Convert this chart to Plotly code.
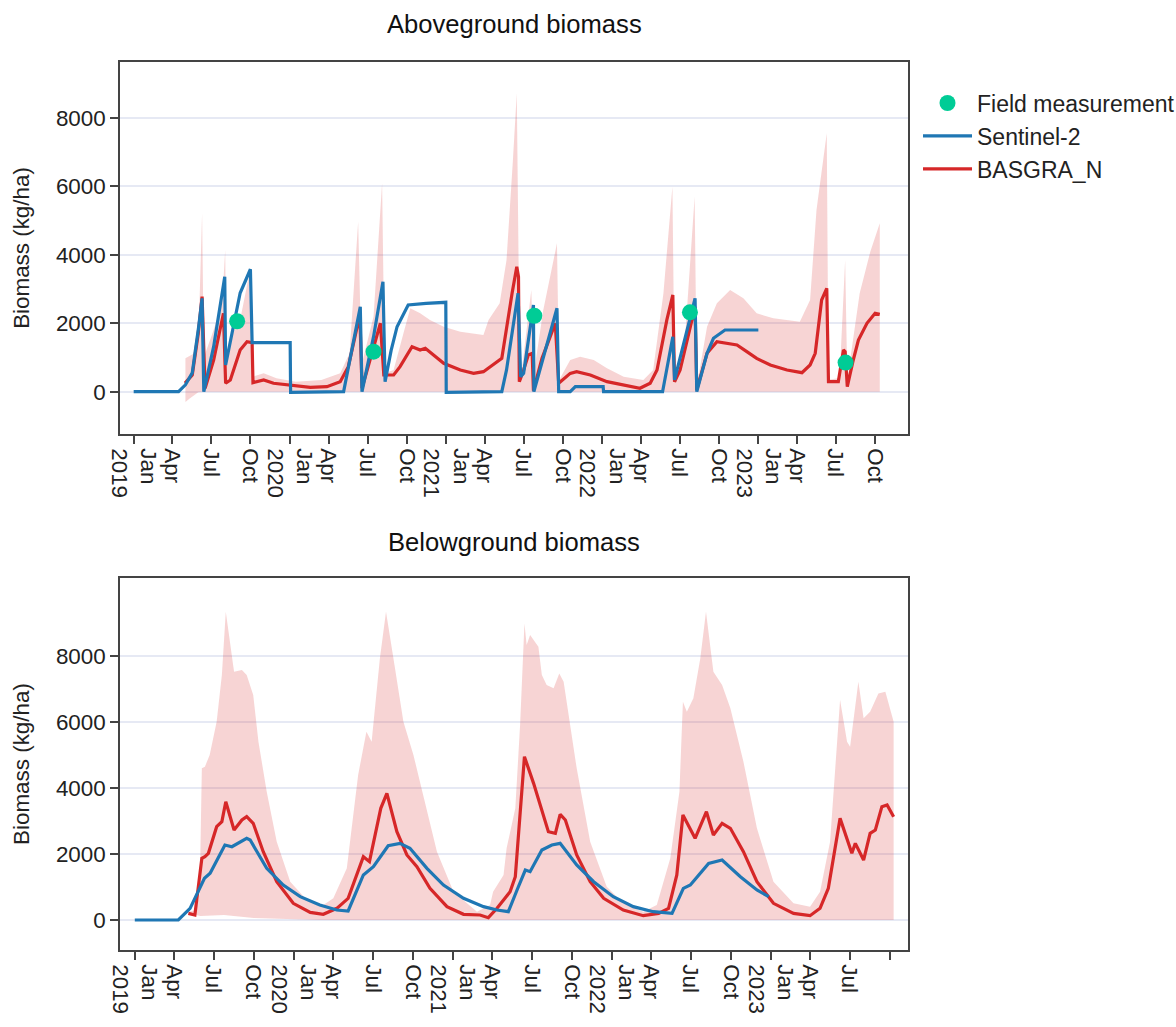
import plotly.graph_objects as go

# ---------------- data: Aboveground biomass (top panel) ----------------
field_dates = ["2019-08-31", "2020-07-15", "2021-07-26", "2022-07-25", "2023-07-24"]
field_agb = [2060, 1170, 2220, 2320, 850]

s2_agb_dates = ["2019-01-01", "2019-04-16", "2019-05-02", "2019-05-18", "2019-06-02", "2019-06-10",
                "2019-06-14", "2019-07-07", "2019-08-02", "2019-08-04", "2019-09-07", "2019-10-01",
                "2019-10-05", "2020-01-02", "2020-01-03", "2020-05-06", "2020-06-14", "2020-06-18",
                "2020-07-15", "2020-08-06", "2020-08-11", "2020-08-25", "2020-09-08", "2020-10-04",
                "2020-11-15", "2020-12-31", "2021-01-01", "2021-05-11", "2021-05-22", "2021-06-18",
                "2021-06-24", "2021-07-01", "2021-07-24", "2021-07-25", "2021-09-17", "2021-09-21",
                "2021-10-18", "2021-10-30", "2022-01-03", "2022-01-04", "2022-05-22", "2022-06-15",
                "2022-06-19", "2022-08-06", "2022-08-10", "2022-09-03", "2022-09-18", "2022-10-15",
                "2023-01-01"]
s2_agb = [0, 0, 200, 550, 1900, 2730,
          0, 1316, 3360, 780, 2885, 3580,
          1433, 1433, -20, 0, 2485, 0,
          1608, 3216, 292, 1200, 1900, 2535,
          2580, 2614, -20, 0, 635, 2877,
          440, 536, 2535, 0, 2438, 0,
          0, 146, 146, 0, 0, 1608,
          342, 2730, 0, 1122, 1561, 1804,
          1804]

bas_agb_dates = ["2019-05-01", "2019-05-18", "2019-06-01", "2019-06-10", "2019-06-17", "2019-07-07",
                 "2019-07-30", "2019-08-04", "2019-08-15", "2019-09-07", "2019-09-23", "2019-10-05",
                 "2019-10-07", "2019-11-01", "2019-11-24", "2020-01-02", "2020-02-18", "2020-03-28",
                 "2020-04-28", "2020-05-17", "2020-06-09", "2020-06-13", "2020-06-18", "2020-07-15",
                 "2020-07-31", "2020-08-08", "2020-08-31", "2020-09-15", "2020-10-13", "2020-11-01",
                 "2020-11-13", "2020-12-26", "2021-02-03", "2021-03-06", "2021-03-29", "2021-04-14",
                 "2021-05-11", "2021-06-04", "2021-06-15", "2021-06-19", "2021-06-21", "2021-07-01",
                 "2021-07-12", "2021-07-21", "2021-07-24", "2021-08-13", "2021-09-13", "2021-09-21",
                 "2021-10-18", "2021-11-02", "2021-12-04", "2022-01-12", "2022-02-20", "2022-03-30",
                 "2022-04-23", "2022-05-09", "2022-06-01", "2022-06-15", "2022-06-19", "2022-07-02",
                 "2022-07-26", "2022-08-06", "2022-08-10", "2022-09-03", "2022-09-26", "2022-10-23",
                 "2022-11-12", "2022-12-05", "2022-12-28", "2023-01-29", "2023-03-09", "2023-04-13",
                 "2023-05-02", "2023-05-14", "2023-05-29", "2023-06-10", "2023-06-14", "2023-07-07",
                 "2023-07-19", "2023-07-23", "2023-07-28", "2023-08-11", "2023-08-23", "2023-09-12",
                 "2023-10-01", "2023-10-12"]
bas_agb = [250, 488, 1700, 2778, 100, 927,
           2292, 245, 342, 1219, 1462, 1433,
           264, 342, 245, 196, 128, 146,
           292, 731, 2000, 2250, 100, 1316,
           2000, 488, 488, 731, 1316, 1219,
           1267, 830, 635, 536, 585, 731,
           975, 2877, 3655, 3363, 292, 635,
           1073, 1122, 30, 975, 2000, 245,
           536, 585, 488, 292, 196, 99,
           245, 635, 2097, 2828, 292, 635,
           1900, 2485, 50, 1122, 1462, 1414,
           1365, 1170, 975, 780, 635, 556,
           780, 1122, 2680, 3023, 292, 292,
           1219, 1170, 150, 927, 1510, 2000,
           2292, 2260]

band_agb_up_dates = ["2019-05-02", "2019-05-20", "2019-06-03", "2019-06-10", "2019-06-14", "2019-07-07",
                     "2019-07-27", "2019-08-03", "2019-08-06", "2019-08-20", "2019-09-07", "2019-09-27",
                     "2019-10-04", "2019-10-07", "2019-11-01", "2019-12-01", "2020-01-15", "2020-03-15",
                     "2020-04-28", "2020-05-20", "2020-06-09", "2020-06-17", "2020-07-15", "2020-08-04",
                     "2020-08-10", "2020-08-31", "2020-09-23", "2020-10-09", "2020-11-01", "2020-11-24",
                     "2020-12-26", "2021-02-03", "2021-03-29", "2021-04-10", "2021-05-06", "2021-05-22",
                     "2021-06-06", "2021-06-15", "2021-06-20", "2021-06-25", "2021-07-19", "2021-07-25",
                     "2021-08-16", "2021-09-17", "2021-09-22", "2021-10-18", "2021-11-10", "2021-12-12",
                     "2022-01-12", "2022-02-20", "2022-04-07", "2022-04-30", "2022-05-24", "2022-06-14",
                     "2022-06-19", "2022-07-10", "2022-08-05", "2022-08-10", "2022-09-03", "2022-09-26",
                     "2022-10-27", "2022-11-27", "2022-12-28", "2023-02-05", "2023-04-08", "2023-05-02",
                     "2023-05-17", "2023-06-10", "2023-06-14", "2023-07-10", "2023-07-23", "2023-07-28",
                     "2023-08-26", "2023-09-20", "2023-10-12"]
band_agb_up = [975, 1100, 2200, 5216, 1000, 1800,
               2600, 4143, 900, 1700, 2097, 3363,
               1600, 439, 536, 390, 292, 342,
               536, 1122, 4970, 780, 2200, 6094,
               536, 635, 1707, 2438, 2292, 2097,
               1900, 1754, 1658, 2097, 2585, 3851,
               6775, 8725, 2877, 440, 2974, 536,
               2389, 4339, 342, 927, 1024, 927,
               684, 439, 342, 635, 2877, 5994,
               342, 927, 5702, 150, 1900, 2585,
               2974, 2730, 2292, 2146, 2047, 2680,
               5313, 7555, 350, 400, 3851, 342,
               2877, 4100, 4923]
band_agb_lo_dates = ["2019-05-02", "2019-05-12", "2019-06-01", "2019-06-10", "2023-10-12"]
band_agb_lo = [-300, -200, -20, 0, 0]

# ---------------- data: Belowground biomass (bottom panel) ----------------
s2_bgb_dates = ["2019-01-01", "2019-04-11", "2019-05-08", "2019-06-10", "2019-06-23", "2019-07-27",
                "2019-08-12", "2019-09-15", "2019-09-23", "2019-10-31", "2019-12-08", "2020-01-16",
                "2020-03-01", "2020-04-09", "2020-05-05", "2020-06-09", "2020-07-02", "2020-08-05",
                "2020-09-01", "2020-09-24", "2020-11-02", "2020-12-10", "2021-01-25", "2021-03-12",
                "2021-04-12", "2021-05-08", "2021-05-28", "2021-06-16", "2021-06-27", "2021-07-24",
                "2021-08-16", "2021-09-04", "2021-10-12", "2021-11-20", "2022-01-04", "2022-02-19",
                "2022-04-06", "2022-05-19", "2022-06-14", "2022-06-30", "2022-08-11", "2022-09-11",
                "2022-10-23", "2022-11-30", "2022-12-27"]
s2_bgb = [0, 0, 354, 1263, 1415, 2273,
          2222, 2475, 2424, 1566, 1060, 707,
          454, 303, 273, 1364, 1616, 2251,
          2323, 2172, 1566, 1060, 657, 404,
          303, 252, 909, 1515, 1465, 2121,
          2273, 2323, 1667, 1161, 707, 404,
          252, 202, 960, 1060, 1717, 1818,
          1313, 909, 707]

bas_bgb_dates = ["2019-05-04", "2019-05-19", "2019-06-04", "2019-06-11", "2019-06-19", "2019-07-08",
                 "2019-07-20", "2019-07-29", "2019-08-17", "2019-09-04", "2019-09-15", "2019-09-30",
                 "2019-10-23", "2019-11-23", "2019-12-31", "2020-02-08", "2020-03-09", "2020-04-09",
                 "2020-05-05", "2020-05-25", "2020-06-09", "2020-06-23", "2020-07-19", "2020-08-02",
                 "2020-08-25", "2020-09-17", "2020-10-10", "2020-11-09", "2020-12-18", "2021-01-25",
                 "2021-03-04", "2021-03-23", "2021-04-12", "2021-05-12", "2021-05-24", "2021-06-14",
                 "2021-07-05", "2021-08-08", "2021-08-24", "2021-09-04", "2021-09-16", "2021-10-12",
                 "2021-11-12", "2021-12-13", "2022-01-27", "2022-03-14", "2022-04-18", "2022-05-11",
                 "2022-05-30", "2022-06-13", "2022-07-11", "2022-08-06", "2022-08-22", "2022-09-11",
                 "2022-09-30", "2022-10-30", "2022-11-30", "2023-01-07", "2023-02-22", "2023-04-01",
                 "2023-04-24", "2023-05-13", "2023-05-28", "2023-06-09", "2023-07-06", "2023-07-14",
                 "2023-08-02", "2023-08-17", "2023-08-29", "2023-09-13", "2023-09-25", "2023-10-10"]
bas_bgb = [202, 152, 1868, 1919, 2020, 2828,
           2980, 3585, 2727, 3030, 3131, 2930,
           2070, 1161, 505, 232, 172, 354,
           657, 1364, 1919, 1767, 3384, 3838,
           2676, 1970, 1616, 960, 404, 172,
           152, 71, 354, 858, 1313, 4949,
           4141, 2676, 2626, 3202, 3030, 1970,
           1161, 657, 303, 131, 202, 354,
           1364, 3181, 2475, 3282, 2575, 2929,
           2778, 2070, 1161, 505, 202, 131,
           354, 960, 2172, 3080, 2020, 2323,
           1818, 2626, 2727, 3434, 3484, 3131]

band_bgb_up_dates = ["2019-05-04", "2019-05-22", "2019-05-30", "2019-06-04", "2019-06-11", "2019-06-22",
                     "2019-07-08", "2019-07-20", "2019-07-29", "2019-08-17", "2019-09-04", "2019-09-15",
                     "2019-09-30", "2019-10-12", "2019-10-31", "2019-11-23", "2019-12-24", "2020-01-31",
                     "2020-03-09", "2020-04-01", "2020-05-02", "2020-05-28", "2020-06-16", "2020-06-28",
                     "2020-07-17", "2020-07-31", "2020-08-17", "2020-09-09", "2020-10-02", "2020-10-25",
                     "2020-11-25", "2021-01-02", "2021-02-25", "2021-03-27", "2021-04-03", "2021-04-27",
                     "2021-05-04", "2021-05-24", "2021-06-04", "2021-06-14", "2021-06-19", "2021-06-27",
                     "2021-07-16", "2021-07-24", "2021-08-04", "2021-08-20", "2021-09-02", "2021-09-12",
                     "2021-09-23", "2021-10-12", "2021-11-12", "2021-12-20", "2022-01-27", "2022-03-14",
                     "2022-04-14", "2022-05-15", "2022-06-05", "2022-06-13", "2022-06-22", "2022-07-07",
                     "2022-07-23", "2022-08-05", "2022-08-22", "2022-09-11", "2022-09-30", "2022-10-30",
                     "2022-11-30", "2023-01-07", "2023-02-22", "2023-04-01", "2023-04-24", "2023-05-17",
                     "2023-06-09", "2023-06-25", "2023-07-02", "2023-07-10", "2023-07-21", "2023-08-02",
                     "2023-08-17", "2023-09-05", "2023-09-21", "2023-10-10"]
band_bgb_up = [250, 300, 800, 4596, 4646, 5000,
               6010, 7424, 9343, 7525, 7575, 7424,
               6818, 5404, 3888, 2373, 1161, 606,
               454, 657, 1566, 4394, 5707, 5404,
               7929, 9343, 7929, 6010, 5000, 3788,
               2070, 858, 252, 454, 858, 1364,
               2172, 3384, 5909, 8989, 8333, 8636,
               8282, 7424, 7121, 7020, 7474, 7222,
               6212, 4596, 2373, 1010, 505, 252,
               454, 1869, 3888, 6615, 6313, 6717,
               7929, 9343, 7525, 7121, 6414, 4797,
               2778, 1161, 505, 404, 858, 2373,
               6666, 5404, 5252, 6111, 7222, 6111,
               6313, 6868, 6918, 6010]
band_bgb_lo_dates = ["2019-05-04", "2019-06-01", "2019-07-25", "2019-10-01", "2020-01-01", "2020-03-01",
                     "2023-10-10"]
band_bgb_lo = [200, 120, 150, 60, 20, 0, 0]

# ---------------- axis ticks ----------------
tick_dates = ["2019-01-01", "2019-04-01", "2019-07-01", "2019-10-01",
              "2020-01-01", "2020-04-01", "2020-07-01", "2020-10-01",
              "2021-01-01", "2021-04-01", "2021-07-01", "2021-10-01",
              "2022-01-01", "2022-04-01", "2022-07-01", "2022-10-01",
              "2023-01-01", "2023-04-01", "2023-07-01", "2023-10-01"]
tick_labels_top = ["Jan<br>2019", "Apr", "Jul", "Oct", "Jan<br>2020", "Apr", "Jul", "Oct",
                   "Jan<br>2021", "Apr", "Jul", "Oct", "Jan<br>2022", "Apr", "Jul", "Oct",
                   "Jan<br>2023", "Apr", "Jul", "Oct"]
tick_labels_bottom = tick_labels_top[:-1] + [""]
y_tick_vals = [0, 2000, 4000, 6000, 8000]
y_tick_text = ["0", "2000", "4000", "6000", "8000"]

RED = "#d62728"
BLUE = "#1f77b4"
GREEN = "#00cc96"
BAND = "rgba(214,39,40,0.2)"
FONT = "Liberation Sans, Arial, Helvetica, sans-serif"
FS = 22.4


def band(dates_up, up, dates_lo, lo, xa, ya):
    return go.Scatter(x=list(dates_up) + list(dates_lo)[::-1],
                      y=list(up) + list(lo)[::-1],
                      fill="toself", fillcolor=BAND, mode="lines",
                      line=dict(width=0, color="rgba(0,0,0,0)"),
                      hoverinfo="skip", showlegend=False, xaxis=xa, yaxis=ya)


fig = go.Figure()
# top panel
fig.add_trace(band(band_agb_up_dates, band_agb_up, band_agb_lo_dates, band_agb_lo, "x", "y"))
fig.add_trace(go.Scatter(x=bas_agb_dates, y=bas_agb, mode="lines", name="BASGRA_N",
                         line=dict(color=RED, width=3.2), legendrank=3, xaxis="x", yaxis="y"))
fig.add_trace(go.Scatter(x=s2_agb_dates, y=s2_agb, mode="lines", name="Sentinel-2",
                         line=dict(color=BLUE, width=3.2), legendrank=2, xaxis="x", yaxis="y"))
fig.add_trace(go.Scatter(x=field_dates, y=field_agb, mode="markers", name="Field measurement",
                         marker=dict(color=GREEN, size=16), legendrank=1, xaxis="x", yaxis="y"))
# bottom panel
fig.add_trace(band(band_bgb_up_dates, band_bgb_up, band_bgb_lo_dates, band_bgb_lo, "x2", "y2"))
fig.add_trace(go.Scatter(x=bas_bgb_dates, y=bas_bgb, mode="lines", name="BASGRA_N",
                         line=dict(color=RED, width=3.2), showlegend=False, xaxis="x2", yaxis="y2"))
fig.add_trace(go.Scatter(x=s2_bgb_dates, y=s2_bgb, mode="lines", name="Sentinel-2",
                         line=dict(color=BLUE, width=3.2), showlegend=False, xaxis="x2", yaxis="y2"))

axis_style = dict(showline=True, linecolor="#444", linewidth=1.6, mirror=True,
                  ticks="outside", ticklen=8, tickwidth=1.6, tickcolor="#444",
                  zeroline=False, tickfont=dict(size=FS, family=FONT, color="#222"))

top_dom = [0.5811, 1.0]
bot_dom = [0.0, 0.4189]

y_common = dict(tickmode="array", tickvals=y_tick_vals, ticktext=y_tick_text,
                showgrid=True, gridcolor="#E6E9F4", gridwidth=1.5,
                title=dict(text="Biomass (kg/ha)", font=dict(size=FS), standoff=20))

fig.update_layout(
    width=1176, height=1027,
    margin=dict(l=120, r=268, t=62, b=77, autoexpand=False),
    paper_bgcolor="white", plot_bgcolor="white",
    font=dict(family=FONT, size=FS, color="#222"),
    xaxis=dict(domain=[0, 1], anchor="y", range=["2018-11-30", "2023-12-17"],
               tickmode="array", tickvals=tick_dates, ticktext=tick_labels_top,
               tickangle=90, showgrid=False, **axis_style),
    yaxis=dict(domain=top_dom, anchor="x", range=[-1237, 9640], **y_common, **axis_style),
    xaxis2=dict(domain=[0, 1], anchor="y2", range=["2018-11-28", "2023-11-12"],
                tickmode="array", tickvals=tick_dates, ticktext=tick_labels_bottom,
                tickangle=90, showgrid=False, **axis_style),
    yaxis2=dict(domain=bot_dom, anchor="x2", range=[-909, 10364], **y_common, **axis_style),
    legend=dict(x=1.0127, y=0.978, xanchor="left", yanchor="top", font=dict(size=23),
                bgcolor="rgba(0,0,0,0)", itemwidth=49),
    annotations=[
        dict(text="Aboveground biomass", x=0.5, y=top_dom[1], xref="paper", yref="paper",
             xanchor="center", yanchor="bottom", yshift=22, showarrow=False,
             font=dict(size=25.6, family=FONT, color="#111")),
        dict(text="Belowground biomass", x=0.5, y=bot_dom[1], xref="paper", yref="paper",
             xanchor="center", yanchor="bottom", yshift=20, showarrow=False,
             font=dict(size=25.6, family=FONT, color="#111")),
    ],
)

fig.write_html("out.html")
